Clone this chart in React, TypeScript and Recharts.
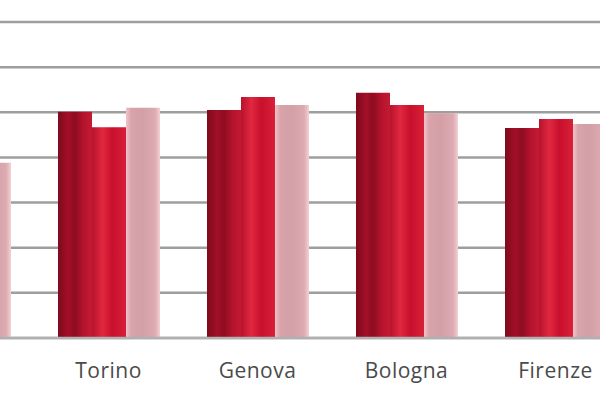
import React from 'react';
import { BarChart, Bar, XAxis, YAxis, CartesianGrid } from 'recharts';

const cities = ['', 'Torino', 'Genova', 'Bologna', 'Firenze'];
const serieA = [45, 50.1, 50.5, 54.3, 46.5];
const serieB = [42, 46.7, 53.4, 51.6, 48.5];
const serieC = [38.8, 51.0, 51.6, 49.8, 47.4];
const yTicks = [0, 10, 20, 30, 40, 50, 60, 70];

const data = cities.map((c, i) => ({ city: c, a: serieA[i], b: serieB[i], c: serieC[i] }));

export default function App() {
  return (
    <div style={{ position: 'fixed', left: 0, top: 0, width: 600, height: 400, overflow: 'hidden', background: '#fff' }}>
      <div style={{ position: 'absolute', left: -115, top: 0 }}>
        <BarChart
          width={745}
          height={400}
          data={data}
          margin={{ top: 22, right: 0, bottom: 0, left: 0 }}
          barSize={34}
          barGap={0}
        >
          <defs>
            <linearGradient id="gA" x1="0" y1="0" x2="1" y2="0">
              <stop offset="0" stopColor="#7d0a1c" />
              <stop offset="0.3" stopColor="#a30f27" />
              <stop offset="0.5" stopColor="#8e0c21" />
              <stop offset="0.75" stopColor="#b5132d" />
              <stop offset="1" stopColor="#c41a34" />
            </linearGradient>
            <linearGradient id="gB" x1="0" y1="0" x2="1" y2="0">
              <stop offset="0" stopColor="#b8122c" />
              <stop offset="0.3" stopColor="#e02840" />
              <stop offset="0.6" stopColor="#c8102e" />
              <stop offset="1" stopColor="#d82038" />
            </linearGradient>
            <linearGradient id="gC" x1="0" y1="0" x2="1" y2="0">
              <stop offset="0" stopColor="#f2c4c9" />
              <stop offset="0.15" stopColor="#d9a3aa" />
              <stop offset="0.5" stopColor="#d2a0a6" />
              <stop offset="0.85" stopColor="#dcaab0" />
              <stop offset="1" stopColor="#f4d0d4" />
            </linearGradient>
          </defs>
          <CartesianGrid vertical={false} stroke="#9e9e9e" strokeWidth={2.5} />
          <XAxis
            dataKey="city"
            height={62}
            tickLine={false}
            tickSize={0}
            tickMargin={25}
            axisLine={{ stroke: '#b0b0b0', strokeWidth: 2.5 }}
            tick={{ fill: '#4a4a4a', fontSize: 21, letterSpacing: 0.5, fontFamily: 'Open Sans, sans-serif' }}
            interval={0}
          />
          <YAxis hide domain={[0, 70]} ticks={yTicks} />
          <Bar dataKey="a" name="Serie 1" fill="url(#gA)" isAnimationActive={false} />
          <Bar dataKey="b" name="Serie 2" fill="url(#gB)" isAnimationActive={false} />
          <Bar dataKey="c" name="Serie 3" fill="url(#gC)" isAnimationActive={false} />
        </BarChart>
      </div>
    </div>
  );
}
